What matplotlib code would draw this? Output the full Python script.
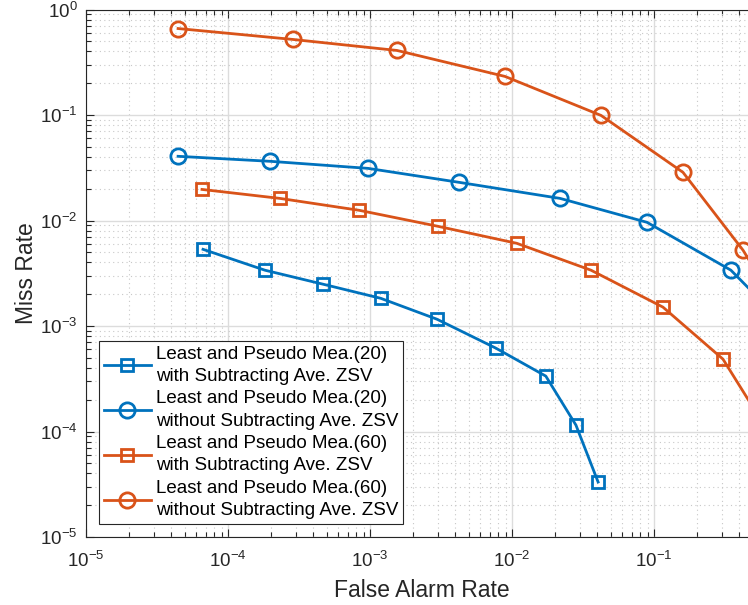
import matplotlib
matplotlib.use("Agg")
import matplotlib.pyplot as plt
from matplotlib.ticker import LogLocator, NullFormatter

plt.rcParams['font.family'] = ['Liberation Sans', 'DejaVu Sans']
plt.rcParams['mathtext.default'] = 'regular'

# ROC-style results: false alarm rate vs. miss rate
fa_20_with = [6.67e-5, 1.82e-4, 4.67e-4, 1.19e-3, 2.96e-3, 7.71e-3, 1.73e-2, 2.82e-2, 4.04e-2]
miss_20_with = [5.33e-3, 3.38e-3, 2.49e-3, 1.83e-3, 1.16e-3, 6.16e-4, 3.35e-4, 1.15e-4, 3.32e-5]

fa_20_without = [4.45e-5, 1.98e-4, 9.68e-4, 4.24e-3, 2.18e-2, 8.93e-2, 3.48e-1, 8.5e-1]
miss_20_without = [4.06e-2, 3.64e-2, 3.12e-2, 2.30e-2, 1.62e-2, 9.61e-3, 3.38e-3, 1.0e-3]

fa_60_with = [6.56e-5, 2.32e-4, 8.37e-4, 3.01e-3, 1.08e-2, 3.60e-2, 1.156e-1, 3.06e-1, 7.5e-1]
miss_60_with = [1.97e-2, 1.62e-2, 1.25e-2, 8.81e-3, 6.08e-3, 3.38e-3, 1.51e-3, 4.85e-4, 7.0e-5]

fa_60_without = [4.45e-5, 2.87e-4, 1.55e-3, 8.93e-3, 4.24e-2, 1.60e-1, 4.24e-1, 9.0e-1]
miss_60_without = [6.6e-1, 5.2e-1, 4.09e-1, 2.32e-1, 9.9e-2, 2.86e-2, 5.22e-3, 1.0e-3]

labels = [
    "Least and Pseudo Mea.(20)\nwith Subtracting Ave. ZSV",
    "Least and Pseudo Mea.(20)\nwithout Subtracting Ave. ZSV",
    "Least and Pseudo Mea.(60)\nwith Subtracting Ave. ZSV",
    "Least and Pseudo Mea.(60)\nwithout Subtracting Ave. ZSV",
]

blue = '#0072BD'
orange = '#D95319'
ink = '#262626'

# decade spacing: 142 px along x, 105.5 px along y
x_hi = 10 ** (-5 + 672 / 142)

fig = plt.figure(figsize=(7.48, 6.05), dpi=100)
ax = fig.add_axes([86 / 748, 68 / 605, 672 / 748, 527.5 / 605])

common = dict(linewidth=2.0, markeredgewidth=2.0, markerfacecolor='none')
ax.plot(fa_20_with, miss_20_with, '-s', color=blue, markersize=8, label=labels[0], **common)
ax.plot(fa_20_without, miss_20_without, '-o', color=blue, markersize=11, label=labels[1], **common)
ax.plot(fa_60_with, miss_60_with, '-s', color=orange, markersize=8, label=labels[2], **common)
ax.plot(fa_60_without, miss_60_without, '-o', color=orange, markersize=11, label=labels[3], **common)

ax.set_xscale('log')
ax.set_yscale('log')
ax.set_xlim(1e-5, x_hi)
ax.set_ylim(1e-5, 1e0)

for axis in (ax.xaxis, ax.yaxis):
    axis.set_major_locator(LogLocator(base=10, numticks=10))
    axis.set_minor_locator(LogLocator(base=10, subs=range(2, 10), numticks=20))
    axis.set_minor_formatter(NullFormatter())

ax.grid(True, which='major', color='#DCDCDC', linewidth=1.0, linestyle='-')
ax.grid(True, which='minor', color='#C8C8C8', linewidth=0.8, linestyle=(0, (1, 3)))
ax.set_axisbelow(True)

ax.tick_params(which='both', direction='in', top=True, right=True, colors=ink,
               labelsize=13.5, width=0.8)
ax.tick_params(which='major', length=6)
ax.tick_params(axis='x', which='major', pad=10)
ax.tick_params(axis='y', which='major', pad=6)
ax.tick_params(which='minor', length=3.5)
for s in ax.spines.values():
    s.set_color(ink)
    s.set_linewidth(0.8)

ax.set_xlabel('False Alarm Rate', fontsize=16.5, color=ink, labelpad=6)
ax.set_ylabel('Miss Rate', fontsize=16.5, color=ink, labelpad=1.5)

leg = ax.legend(loc='lower left', bbox_to_anchor=(13 / 672, 13 / 527.5), borderaxespad=0,
                fontsize=13.5, frameon=True, fancybox=False, framealpha=1,
                edgecolor=ink, handlelength=2.5, handletextpad=0.3,
                labelspacing=0.3, borderpad=0.25)
leg.get_frame().set_linewidth(0.8)
for t in leg.get_texts():
    t.set_color('black')
    t.set_linespacing(1.4)

fig.savefig('out.png', dpi=100)
